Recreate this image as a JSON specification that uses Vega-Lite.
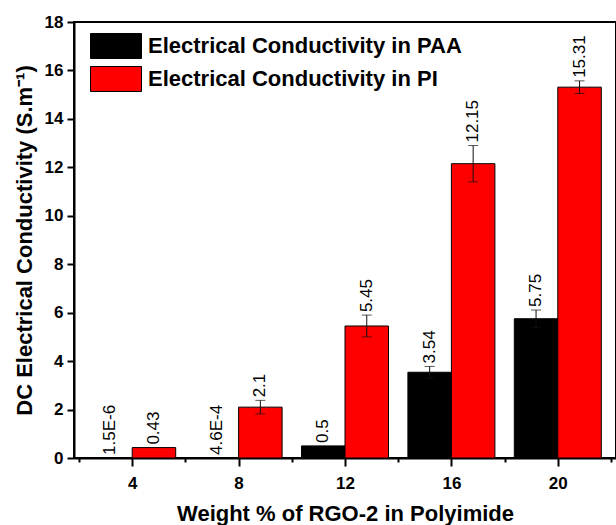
{
  "$schema": "https://vega.github.io/schema/vega-lite/v6.json",
  "autosize": {"type": "none"},
  "padding": {"left": 74, "top": 22, "right": 0, "bottom": 67},
  "width": 542,
  "height": 436,
  "background": "white",
  "data": {
    "values": [
      {"wt": 4, "series": "Electrical Conductivity in PAA", "value": 0.0000015, "lo": 0.0000015, "hi": 0.0000015, "label": "1.5E-6"},
      {"wt": 4, "series": "Electrical Conductivity in PI", "value": 0.43, "lo": 0.43, "hi": 0.43, "label": "0.43"},
      {"wt": 8, "series": "Electrical Conductivity in PAA", "value": 0.00046, "lo": 0.00046, "hi": 0.00046, "label": "4.6E-4"},
      {"wt": 8, "series": "Electrical Conductivity in PI", "value": 2.1, "lo": 1.82, "hi": 2.38, "label": "2.1"},
      {"wt": 12, "series": "Electrical Conductivity in PAA", "value": 0.5, "lo": 0.5, "hi": 0.5, "label": "0.5"},
      {"wt": 12, "series": "Electrical Conductivity in PI", "value": 5.45, "lo": 5.0, "hi": 5.9, "label": "5.45"},
      {"wt": 16, "series": "Electrical Conductivity in PAA", "value": 3.54, "lo": 3.3, "hi": 3.78, "label": "3.54"},
      {"wt": 16, "series": "Electrical Conductivity in PI", "value": 12.15, "lo": 11.4, "hi": 12.9, "label": "12.15"},
      {"wt": 20, "series": "Electrical Conductivity in PAA", "value": 5.75, "lo": 5.39, "hi": 6.11, "label": "5.75"},
      {"wt": 20, "series": "Electrical Conductivity in PI", "value": 15.31, "lo": 15.05, "hi": 15.57, "label": "15.31"}
    ]
  },
  "encoding": {
    "x": {
      "field": "wt",
      "type": "quantitative",
      "scale": {"domain": [2, 22], "nice": false, "zero": false},
      "axis": {
        "title": "Weight % of RGO-2 in Polyimide",
        "values": [2, 4, 6, 8, 10, 12, 14, 16, 18, 20, 22],
        "labelExpr": "datum.value % 4 == 0 ? datum.label : ''",
        "tickSize": {"condition": {"test": "datum.value % 4 == 0", "value": 8}, "value": 4},
        "labelPadding": 9,
        "titlePadding": 12,
        "grid": false
      }
    }
  },
  "layer": [
    {
      "transform": [{"filter": "datum.series == 'Electrical Conductivity in PAA'"}],
      "mark": {"type": "bar", "width": 43.5, "xOffset": -21.75, "stroke": "black", "strokeWidth": 1},
      "encoding": {
        "y": {
          "field": "value",
          "type": "quantitative",
          "scale": {"domain": [0, 18], "nice": false},
          "axis": {
            "title": "DC Electrical Conductivity (S.m⁻¹)",
            "values": [0, 1, 2, 3, 4, 5, 6, 7, 8, 9, 10, 11, 12, 13, 14, 15, 16, 17, 18],
            "labelExpr": "datum.value % 2 == 0 ? datum.label : ''",
            "tickSize": {"condition": {"test": "datum.value % 2 == 0", "value": 7}, "value": 4},
            "labelPadding": 4,
            "titlePadding": 8,
            "grid": false
          }
        },
        "color": {
          "field": "series",
          "type": "nominal",
          "scale": {
            "domain": ["Electrical Conductivity in PAA", "Electrical Conductivity in PI"],
            "range": ["#000000", "#ff0000"]
          },
          "legend": {
            "title": null,
            "orient": "none",
            "legendX": 16,
            "legendY": 11,
            "padding": 0,
            "symbolType": "M-1,-1H3.08V1H-1Z",
            "symbolSize": 625,
            "symbolStrokeColor": "black",
            "symbolStrokeWidth": 1,
            "symbolOpacity": 1,
            "labelOffset": 32,
            "rowPadding": 3,
            "labelFont": "Liberation Sans",
            "labelFontSize": 22,
            "labelFontWeight": "bold",
            "labelColor": "black",
            "labelLimit": 500
          }
        }
      }
    },
    {
      "transform": [{"filter": "datum.series == 'Electrical Conductivity in PI'"}],
      "mark": {"type": "bar", "width": 43.5, "xOffset": 21.75, "stroke": "black", "strokeWidth": 1},
      "encoding": {
        "y": {"field": "value", "type": "quantitative", "title": "DC Electrical Conductivity (S.m⁻¹)"},
        "color": {"field": "series", "type": "nominal"}
      }
    },
    {
      "transform": [{"filter": "datum.series == 'Electrical Conductivity in PAA' && datum.hi > datum.lo"}],
      "mark": {
        "type": "errorbar",
        "rule": {"xOffset": -21.75, "color": "#111111", "strokeWidth": 1},
        "ticks": {"xOffset": -21.75, "color": "#111111", "size": 10, "thickness": 1}
      },
      "encoding": {
        "y": {"field": "lo", "type": "quantitative", "title": "DC Electrical Conductivity (S.m⁻¹)"},
        "y2": {"field": "hi"}
      }
    },
    {
      "transform": [{"filter": "datum.series == 'Electrical Conductivity in PI' && datum.hi > datum.lo"}],
      "mark": {
        "type": "errorbar",
        "rule": {"xOffset": 21.75, "color": "#111111", "strokeWidth": 1},
        "ticks": {"xOffset": 21.75, "color": "#111111", "size": 10, "thickness": 1}
      },
      "encoding": {
        "y": {"field": "lo", "type": "quantitative", "title": "DC Electrical Conductivity (S.m⁻¹)"},
        "y2": {"field": "hi"}
      }
    },
    {
      "transform": [{"filter": "datum.series == 'Electrical Conductivity in PAA'"}],
      "mark": {"type": "text", "angle": 270, "align": "left", "baseline": "middle", "dx": 3, "xOffset": -21.75, "font": "Liberation Sans", "fontSize": 17, "color": "black"},
      "encoding": {
        "y": {"field": "hi", "type": "quantitative", "title": "DC Electrical Conductivity (S.m⁻¹)"},
        "text": {"field": "label"}
      }
    },
    {
      "transform": [{"filter": "datum.series == 'Electrical Conductivity in PI'"}],
      "mark": {"type": "text", "angle": 270, "align": "left", "baseline": "middle", "dx": 3, "xOffset": 21.75, "font": "Liberation Sans", "fontSize": 17, "color": "black"},
      "encoding": {
        "y": {"field": "hi", "type": "quantitative", "title": "DC Electrical Conductivity (S.m⁻¹)"},
        "text": {"field": "label"}
      }
    }
  ],
  "config": {
    "view": {"stroke": "black", "strokeWidth": 2},
    "axis": {
      "domainColor": "black",
      "domainWidth": 2,
      "tickColor": "black",
      "tickWidth": 2,
      "labelFont": "Liberation Sans",
      "labelFontSize": 17,
      "labelFontWeight": "bold",
      "labelColor": "black",
      "titleFont": "Liberation Sans",
      "titleFontSize": 22,
      "titleFontWeight": "bold",
      "titleColor": "black"
    }
  }
}
